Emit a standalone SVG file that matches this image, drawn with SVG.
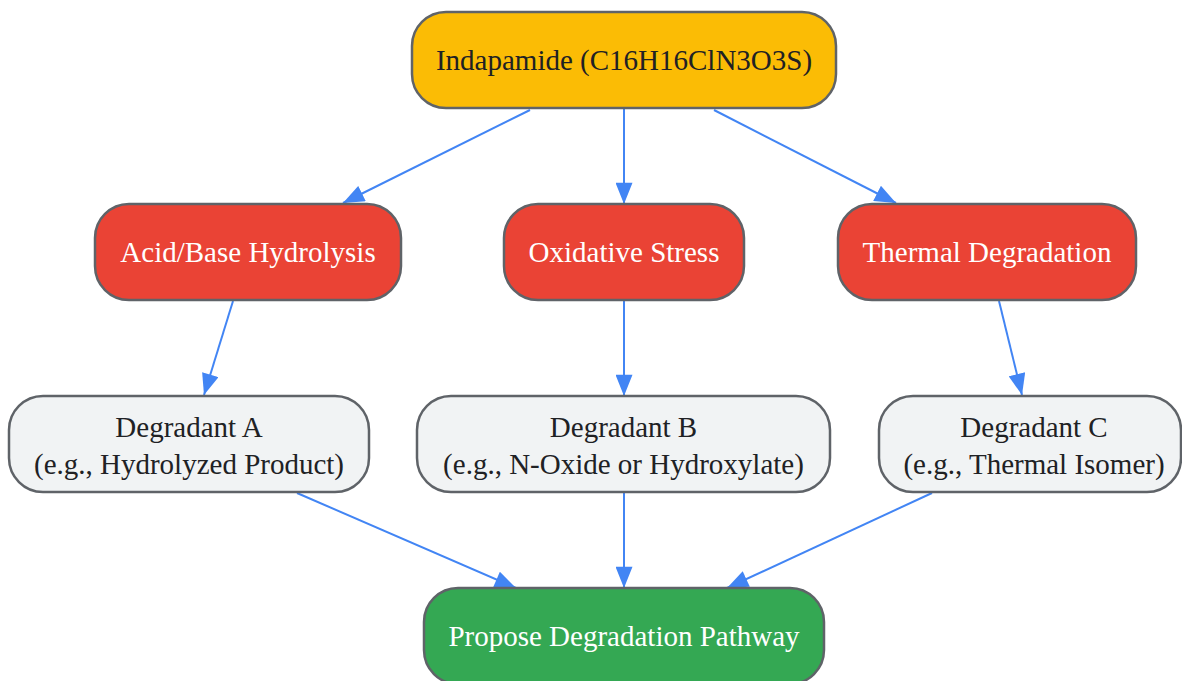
<svg xmlns="http://www.w3.org/2000/svg" width="1182" height="681" viewBox="0 0 1182 681">
<style>
.n{stroke:#5f6368;stroke-width:2.5}
.t{font-family:"Liberation Serif","Times New Roman",serif;font-size:29px;text-anchor:middle}
.d{fill:#202124}
.w{fill:#ffffff}
.e{stroke:#4285F4;stroke-width:2;fill:none}
</style>
<defs>
<marker id="ah" viewBox="0 0 20 16" refX="20" refY="8" markerWidth="22" markerHeight="17" markerUnits="userSpaceOnUse" orient="auto">
<path d="M0,0 L20,8 L0,16 z" fill="#4285F4"/>
</marker>
</defs>
<rect width="1182" height="681" fill="#ffffff"/>
<g id="connectors">
<line class="e" x1="530" y1="110" x2="343" y2="203" marker-end="url(#ah)"/>
<line class="e" x1="624" y1="108" x2="624" y2="204" marker-end="url(#ah)"/>
<line class="e" x1="714" y1="110" x2="896" y2="203" marker-end="url(#ah)"/>
<line class="e" x1="233" y1="301" x2="204" y2="395" marker-end="url(#ah)"/>
<line class="e" x1="624" y1="300" x2="624" y2="396" marker-end="url(#ah)"/>
<line class="e" x1="999" y1="301" x2="1022" y2="395" marker-end="url(#ah)"/>
<line class="e" x1="297" y1="493" x2="516" y2="588" marker-end="url(#ah)"/>
<line class="e" x1="624" y1="492" x2="624" y2="588" marker-end="url(#ah)"/>
<line class="e" x1="932" y1="493" x2="727" y2="588" marker-end="url(#ah)"/>
</g>
<g id="indapamide">
<rect class="n" x="412" y="12" width="424" height="96" rx="34" fill="#FBBC05"/>
<text class="t d" x="624" y="70">Indapamide (C16H16ClN3O3S)</text>
</g>
<g id="acid">
<rect class="n" x="95" y="204" width="306" height="96" rx="34" fill="#EA4335"/>
<text class="t w" x="248" y="262">Acid/Base Hydrolysis</text>
</g>
<g id="oxidative">
<rect class="n" x="504" y="204" width="240" height="96" rx="34" fill="#EA4335"/>
<text class="t w" x="624" y="262">Oxidative Stress</text>
</g>
<g id="thermal">
<rect class="n" x="838" y="204" width="298" height="96" rx="34" fill="#EA4335"/>
<text class="t w" x="987" y="262">Thermal Degradation</text>
</g>
<g id="degA">
<rect class="n" x="9" y="396" width="360" height="96" rx="34" fill="#F1F3F4"/>
<text class="t d" x="189" y="437">Degradant A</text>
<text class="t d" x="189" y="474">(e.g., Hydrolyzed Product)</text>
</g>
<g id="degB">
<rect class="n" x="417" y="396" width="413" height="96" rx="34" fill="#F1F3F4"/>
<text class="t d" x="623.5" y="437">Degradant B</text>
<text class="t d" x="623.5" y="474">(e.g., N-Oxide or Hydroxylate)</text>
</g>
<g id="degC">
<rect class="n" x="879" y="396" width="302" height="96" rx="34" fill="#F1F3F4"/>
<text class="t d" x="1034" y="437">Degradant C</text>
<text class="t d" x="1034" y="474">(e.g., Thermal Isomer)</text>
</g>
<g id="propose">
<rect class="n" x="424" y="588" width="400" height="96" rx="34" fill="#34A853"/>
<text class="t w" x="624" y="646">Propose Degradation Pathway</text>
</g>
</svg>
